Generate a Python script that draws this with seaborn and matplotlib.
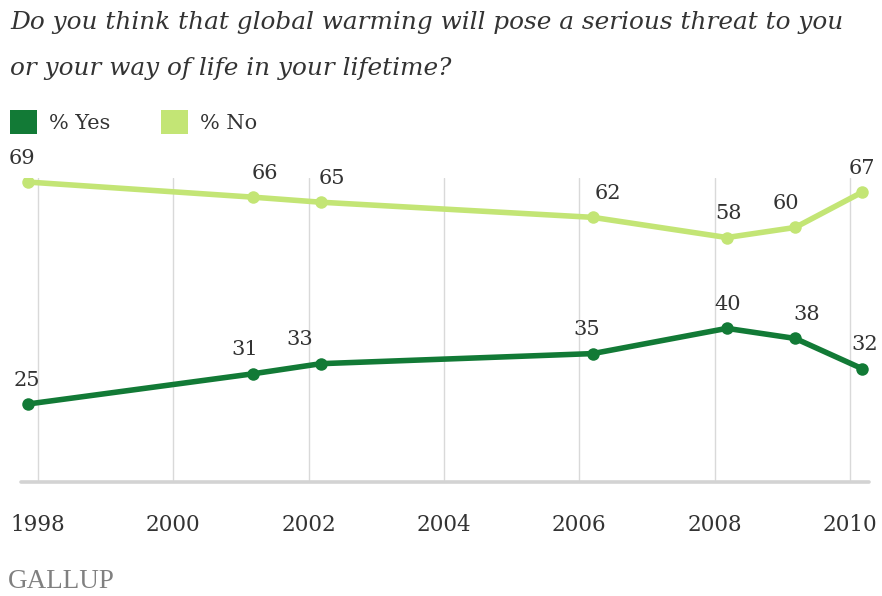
import pandas as pd
import seaborn as sns
import matplotlib.pyplot as plt
from matplotlib.patches import Patch

# -------------------------------
# Data
# -------------------------------
poll_dates = [1997.85, 2001.18, 2002.18, 2006.20, 2008.18, 2009.19, 2010.18]
yes_pct = [25, 31, 33, 35, 40, 38, 32]
no_pct = [69, 66, 65, 62, 58, 60, 67]
year_ticks = [1998, 2000, 2002, 2004, 2006, 2008, 2010]

# label nudges (pixels) so numbers sit like in the original
yes_dx = [-1, -8, -21, -6, 1, 11, 2]
no_dx = [-6, 12, 11, 15, 2, -9, 0]

YES_COLOR = "#127a36"
NO_COLOR = "#c3e575"
SERIF = "DejaVu Serif"

df = pd.DataFrame({
    "date": poll_dates * 2,
    "pct": yes_pct + no_pct,
    "answer": ["% Yes"] * len(yes_pct) + ["% No"] * len(no_pct),
})

sns.set_theme(style="white")
plt.rcParams["font.family"] = [SERIF, "DejaVu Sans"]

fig = plt.figure(figsize=(8.82, 5.96), dpi=100)
W, H = 882, 596
ax = fig.add_axes([21 / W, 1 - 482 / H, 848 / W, (482 - 178) / H])

sns.lineplot(data=df, x="date", y="pct", hue="answer",
             palette={"% Yes": YES_COLOR, "% No": NO_COLOR},
             marker="o", markersize=9, markeredgewidth=0,
             linewidth=4, legend=False, ax=ax, zorder=3)

ax.set_xlim(1997.75, 2010.28)
ax.set_ylim(9.55, 69.8)

# vertical grid + heavy baseline
ax.set_xticks(year_ticks)
ax.set_xticklabels([str(y) for y in year_ticks])
ax.grid(axis="x", color="#d9d9d9", linewidth=1)
ax.grid(axis="y", visible=False)
ax.set_yticks([])
for s in ax.spines.values():
    s.set_visible(False)
ax.axhline(9.55, color="#d3d3d3", linewidth=2.6, clip_on=False, zorder=2)
ax.tick_params(axis="x", length=0, pad=23, labelsize=15.5, labelcolor="#333333")
ax.set_xlabel("")
ax.set_ylabel("")

# data labels
for x, v, dx in zip(poll_dates, yes_pct, yes_dx):
    ax.annotate(str(v), (x, v), xytext=(dx, 24), textcoords="offset pixels",
                ha="center", va="center", fontsize=15, color="#333333",
                annotation_clip=False)
for x, v, dx in zip(poll_dates, no_pct, no_dx):
    ax.annotate(str(v), (x, v), xytext=(dx, 24), textcoords="offset pixels",
                ha="center", va="center", fontsize=15, color="#333333",
                annotation_clip=False)

# title
fig.text(10 / W, 1 - 22 / H, "Do you think that global warming will pose a serious threat to you",
         ha="left", va="center", fontsize=17.8, style="italic", color="#333333")
fig.text(10 / W, 1 - 68 / H, "or your way of life in your lifetime?",
         ha="left", va="center", fontsize=17.8, style="italic", color="#333333")

# legend
handles = [Patch(facecolor=YES_COLOR, edgecolor="none", label="% Yes"),
           Patch(facecolor=NO_COLOR, edgecolor="none", label="% No")]
fig.legend(handles=handles, loc="center left", bbox_to_anchor=(-7 / W, 1 - 122 / H),
           ncol=2, frameon=False, fontsize=15, handlelength=1.3, handleheight=1.4,
           handletextpad=0.6, columnspacing=2.4, labelcolor="#333333",
           borderpad=0.3)

# source mark
fig.text(8 / W, 1 - 582 / H, "GALLUP", ha="left", va="center", fontsize=19.5,
         family="Liberation Serif", color="#808080")

fig.savefig("out.png", dpi=100)
